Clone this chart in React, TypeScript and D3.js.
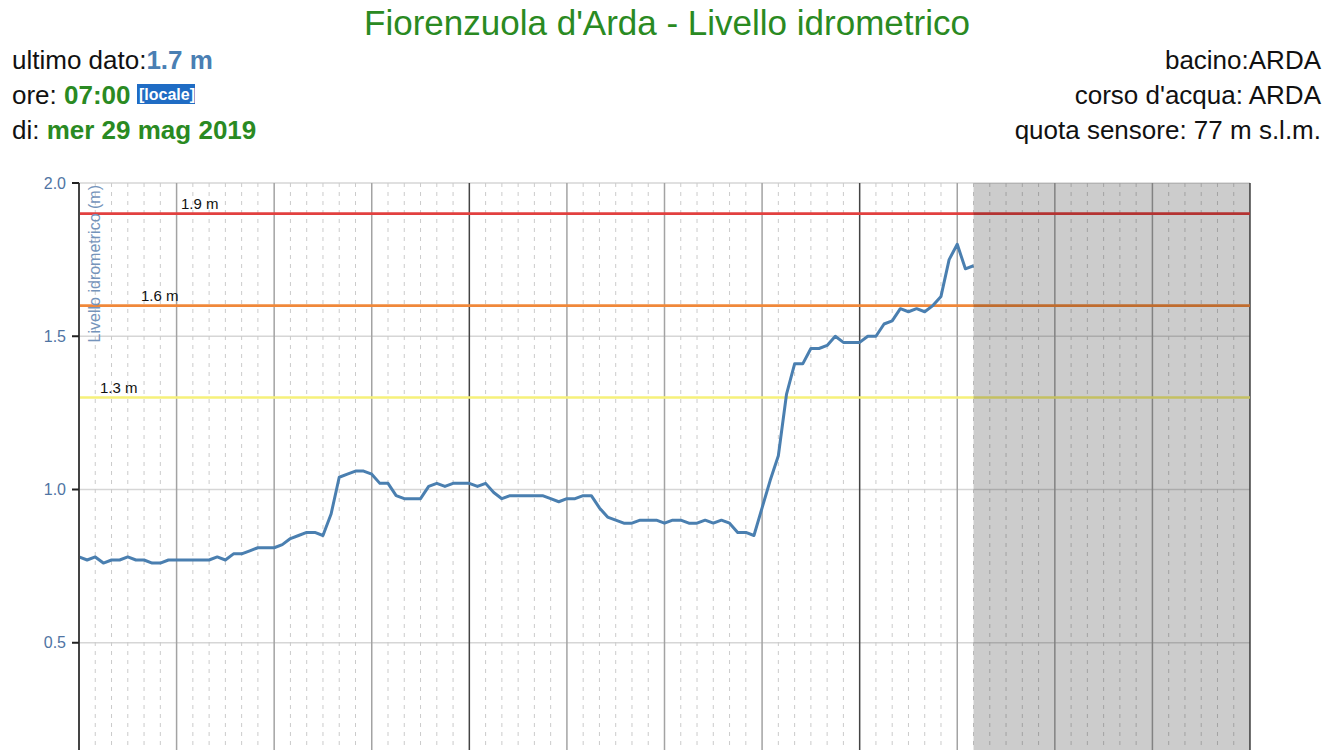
import React from "react";
import * as d3 from "d3";

// ---- data ----
const startTime = new Date(2019, 4, 27, 0, 0);
const endTime = new Date(2019, 4, 30, 0, 0);
const stepMinutes = 30;
const levels: number[] = [
  0.78, 0.77, 0.78, 0.76, 0.77, 0.77, 0.78, 0.77, 0.77, 0.76,
  0.76, 0.77, 0.77, 0.77, 0.77, 0.77, 0.77, 0.78, 0.77, 0.79,
  0.79, 0.80, 0.81, 0.81, 0.81, 0.82, 0.84, 0.85,
  0.86, 0.86, 0.85, 0.92, 1.04, 1.05, 1.06, 1.06, 1.05, 1.02,
  1.02, 0.98, 0.97, 0.97, 0.97, 1.01, 1.02, 1.01, 1.02, 1.02,
  1.02, 1.01, 1.02, 0.99, 0.97, 0.98, 0.98, 0.98,
  0.98, 0.98, 0.97, 0.96, 0.97, 0.97, 0.98, 0.98, 0.94, 0.91,
  0.90, 0.89, 0.89, 0.90, 0.90, 0.90, 0.89, 0.90, 0.90, 0.89,
  0.89, 0.90, 0.89, 0.90, 0.89, 0.86, 0.86, 0.85,
  0.94, 1.03, 1.11, 1.31, 1.41, 1.41, 1.46, 1.46, 1.47, 1.50,
  1.48, 1.48, 1.48, 1.50, 1.50, 1.54, 1.55, 1.59, 1.58, 1.59,
  1.58, 1.60, 1.63, 1.75, 1.80, 1.72, 1.73,
];
const thresholdValues = [1.9, 1.6, 1.3];
const thresholdLabels = ["1.9 m", "1.6 m", "1.3 m"];
const thresholdColors = ["#e2403f", "#f0883a", "#f6f17a"];
const yTicks = [0.5, 1.0, 1.5, 2.0];

const titleText = "Fiorenzuola d'Arda - Livello idrometrico";
const infoLeft = { lastValue: "1.7 m", hour: "07:00", day: "mer 29 mag 2019" };
const infoRight = ["bacino:ARDA", "corso d'acqua: ARDA", "quota sensore: 77 m s.l.m."];

const FONT = "'Liberation Sans', Arial, Helvetica, sans-serif";
const GREEN = "#2a8a22";
const BLUE = "#4a7fb3";

export default function App() {
  const W = 1334, H = 750;
  const left = 79, right = 1250, top = 183;
  const x = d3.scaleTime().domain([startTime, endTime]).range([left, right]);
  const y = d3.scaleLinear().domain([0, 2]).range([796, top]);

  const points = levels.map((v, i) => ({
    t: new Date(startTime.getTime() + i * stepMinutes * 60000),
    v,
  }));
  const lastTime = points[points.length - 1].t;

  const line = d3
    .line<{ t: Date; v: number }>()
    .x((d) => x(d.t))
    .y((d) => y(d.v));

  const hours = d3.timeHour.range(startTime, d3.timeHour.offset(endTime, 1));
  const dashed = hours.filter((h) => h.getHours() % 6 !== 0);
  const sixH = hours.filter((h) => h.getHours() % 6 === 0 && h.getHours() !== 0 && h > startTime);
  const midnights = hours.filter((h) => h.getHours() === 0 && h > startTime);

  const labelX = [181, 141, 100];

  return (
    <svg
      width={W}
      height={H}
      style={{ position: "absolute", left: 0, top: 0, display: "block", background: "#fff" }}
      fontFamily={FONT}
    >
      {/* title */}
      <text x={667} y={35} textAnchor="middle" fontSize={35} fill={GREEN}>
        {titleText}
      </text>

      {/* left info */}
      <text x={12} y={69} fontSize={26} fill="#111">
        ultimo dato:
        <tspan fontWeight="bold" fill={BLUE}>{infoLeft.lastValue}</tspan>
      </text>
      <text x={12} y={104} fontSize={26} fill="#111">
        ore: <tspan fontWeight="bold" fill={GREEN}>{infoLeft.hour}</tspan>
      </text>
      <rect x={137} y={84} width={58} height={20} fill="#1f6cc4" />
      <text x={139} y={100} fontSize={16} fill="#fff" fontWeight="bold">
        [locale]
      </text>
      <text x={12} y={139} fontSize={26} fill="#111">
        di: <tspan fontWeight="bold" fill={GREEN}>{infoLeft.day}</tspan>
      </text>

      {/* right info */}
      {infoRight.map((s, i) => (
        <text key={s} x={1321} y={69 + i * 35} fontSize={26} fill="#111" textAnchor="end">
          {s}
        </text>
      ))}

      {/* horizontal grid */}
      {yTicks.map((t) => (
        <line key={"h" + t} x1={left} x2={right} y1={y(t)} y2={y(t)} stroke="#d6d6d6" strokeWidth={1.5} />
      ))}

      {/* hourly dashed */}
      {dashed.map((h) => (
        <line
          key={"d" + h.getTime()}
          x1={x(h)}
          x2={x(h)}
          y1={top}
          y2={H}
          stroke="#cbcbcb"
          strokeWidth={1}
          strokeDasharray="4,5"
        />
      ))}
      {/* 6-hour lines */}
      {sixH.map((h) => (
        <line key={"s" + h.getTime()} x1={x(h)} x2={x(h)} y1={top} y2={H} stroke="#a3a3a3" strokeWidth={1.5} />
      ))}
      {/* midnight lines */}
      {midnights.map((h) => (
        <line key={"m" + h.getTime()} x1={x(h)} x2={x(h)} y1={top} y2={H} stroke="#444" strokeWidth={1.5} />
      ))}

      {/* thresholds */}
      {thresholdValues.map((v, i) => (
        <g key={"t" + v}>
          <line x1={left} x2={right} y1={y(v)} y2={y(v)} stroke={thresholdColors[i]} strokeWidth={2.6} />
          <text x={labelX[i]} y={y(v) - 5} fontSize={15} fill="#111">
            {thresholdLabels[i]}
          </text>
        </g>
      ))}

      {/* data line */}
      <path d={line(points) || ""} fill="none" stroke="#4a7fb0" strokeWidth={3} strokeLinejoin="round" />

      {/* future region */}
      <rect x={x(lastTime)} y={top} width={right - x(lastTime)} height={H - top} fill="rgba(0,0,0,0.2)" />

      {/* y axis */}
      <line x1={left} x2={left} y1={top} y2={H} stroke="#444" strokeWidth={2} />
      {yTicks.map((t) => (
        <g key={"yt" + t}>
          <line x1={left - 7} x2={left} y1={y(t)} y2={y(t)} stroke="#222" strokeWidth={2} />
          <text x={66} y={y(t) + 5.5} fontSize={16} fill="#4f74a3" textAnchor="end">
            {t.toFixed(1)}
          </text>
        </g>
      ))}
      <text
        transform={`translate(100, 185) rotate(-90)`}
        fontSize={16}
        fill="#7594bb"
        textAnchor="end"
      >
        Livello idrometrico (m)
      </text>
    </svg>
  );
}
